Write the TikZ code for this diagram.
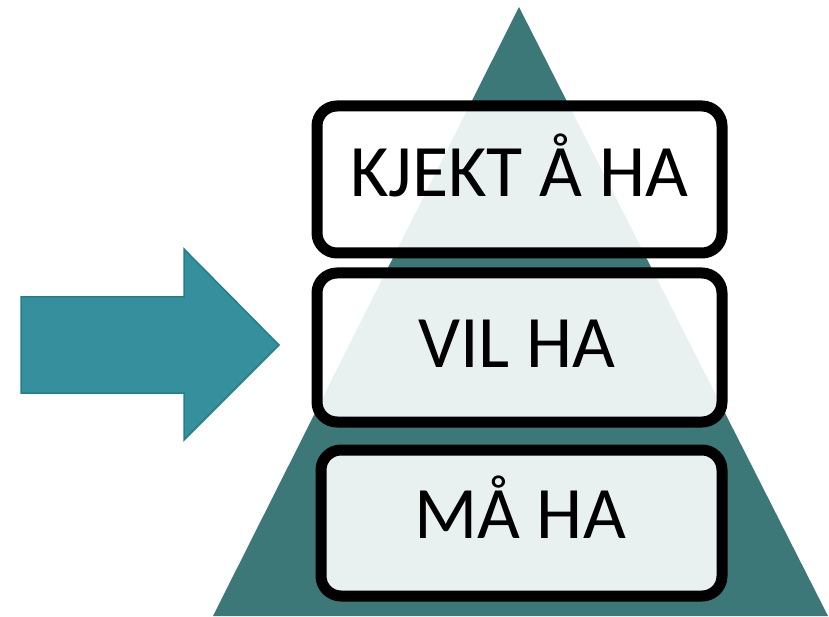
\documentclass[tikz,border=0pt]{standalone}
\usepackage{fontspec}
\setmainfont{Carlito}
\definecolor{pyr}{HTML}{3D7878}
\definecolor{arrfill}{HTML}{358F9C}
\definecolor{arrline}{HTML}{22808A}
\begin{document}
\begin{tikzpicture}[x=1pt,y=-1pt,
  levelbox/.style={draw=black,line width=11pt,rounded corners=20pt,fill=white,fill opacity=0.89},
  leveltext/.style={anchor=base,font=\fontsize{74}{80}\selectfont,text=black,inner sep=0pt}]
\useasboundingbox (0,0) rectangle (829,617);
% pyramid
\fill[pyr] (519,7) -- (828,616) -- (213,616) -- cycle;
% boxes
\draw[levelbox] (317,106) rectangle (722,253);
\draw[levelbox] (317,273) rectangle (722,422);
\draw[levelbox] (321,450) rectangle (722,596);
\node[leveltext] (top) at (519,197) {KJEKT Å HA};
\node[leveltext] (mid) at (517,367) {VIL HA};
\node[leveltext] (bot) at (520,538) {MÅ HA};
% arrow
\draw[fill=arrfill,draw=arrline,line width=1.5pt,line join=miter]
  (21,297) -- (184,297) -- (184,249) -- (279,345) -- (184,440) -- (184,393) -- (21,393) -- cycle;
\end{tikzpicture}
\end{document}
